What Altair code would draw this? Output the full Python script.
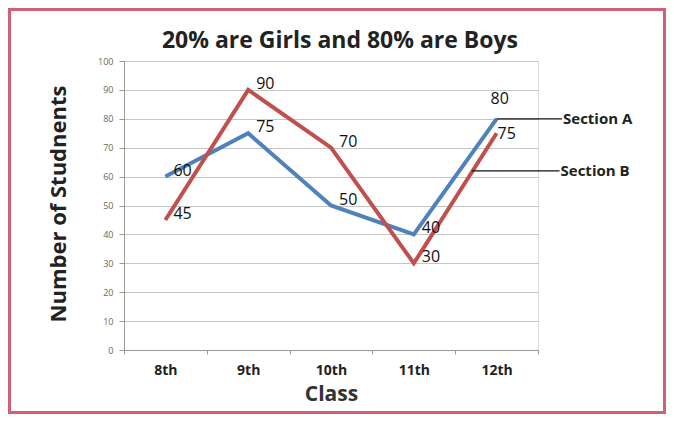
import json
import altair as alt
import pandas as pd

title_text = "20% are Girls and 80% are Boys"
classes = ["8th", "9th", "10th", "11th", "12th"]
section_a = [60, 75, 50, 40, 80]
section_b = [45, 90, 70, 30, 75]
series_names = ["Section A", "Section B"]
series_colors = ["#4f81bd", "#c0504d"]

# annotation callouts: anchor point on the line (class index, value) and end of leader
ann_names = ["Section A", "Section B"]
ann_x = [4.0, 3.7]
ann_y = [80, 62]
ann_x_end = [4.79, 4.76]

rows = []
for name, vals in zip(series_names, [section_a, section_b]):
    for i, (c, v) in enumerate(zip(classes, vals)):
        rows.append({"idx": i, "cls": c, "series": name, "value": v})
df = pd.DataFrame(rows)
ann = pd.DataFrame({"label": ann_names, "x": ann_x, "y": ann_y, "x_end": ann_x_end})

W, H = 414, 289
PAD_L, PAD_T, PAD_R, PAD_B = 116, 53, 128, 64
FONT = "Open Sans"

x_scale = alt.Scale(domain=[-0.5, len(classes) - 0.5], nice=False, zero=False)
y_scale = alt.Scale(domain=[0, 100], nice=False)
color_scale = alt.Scale(domain=series_names, range=series_colors)

label_expr = (
    f"datum.value < {len(classes) - 1} ? {json.dumps(classes)}[round(datum.value + 0.5)] : ''"
)

x_axis = alt.Axis(
    values=[i - 0.5 for i in range(len(classes) + 1)],
    labelExpr=label_expr,
    labelOffset=W / len(classes) / 2,
    labelOverlap=False,
    labelFlush=False,
    labelBound=False,
    grid=False,
    tickSize=4,
    tickColor="#999999",
    domainColor="#999999",
    labelFont=FONT,
    labelFontSize=14,
    labelFontWeight="bold",
    labelColor="#222222",
    labelPadding=9,
    title="Class",
    titleFont=FONT,
    titleFontSize=21,
    titleFontWeight="bold",
    titleColor="#333333",
    titlePadding=6,
)
y_axis = alt.Axis(
    values=list(range(0, 101, 10)),
    labelOverlap=False,
    grid=True,
    gridColor="#c4c4c4",
    gridWidth=1,
    tickSize=5,
    tickColor="#999999",
    domainColor="#999999",
    labelFont=FONT,
    labelFontSize=9,
    labelColor="#666666",
    labelPadding=6,
    title="Number of Studnents",
    titleFont=FONT,
    titleFontSize=22,
    titleFontWeight="bold",
    titleColor="#222222",
    titleX=-66,
    titleY=H / 2 - 2,
    titleAngle=-90,
    titleBaseline="middle",
    titleAlign="center",
)

X = lambda f: alt.X(f, scale=x_scale, axis=x_axis)
Y = lambda f: alt.Y(f, scale=y_scale, axis=y_axis)

base = alt.Chart(df)

lines = base.mark_line(strokeWidth=4).encode(
    x=X("idx:Q"),
    y=Y("value:Q"),
    color=alt.Color("series:N", scale=color_scale, legend=None),
    order="idx:Q",
)

txt_enc = dict(x=X("idx:Q"), y=Y("value:Q"), text=alt.Text("value:Q"))
lbl_main = base.transform_filter(f"datum.idx < {len(classes) - 1}").mark_text(
    align="left", baseline="middle", dx=8, dy=-6, font=FONT, fontSize=16, color="#111111"
).encode(**txt_enc)
lbl_last_a = base.transform_filter(
    f"datum.idx == {len(classes) - 1} && datum.series == 'Section A'"
).mark_text(
    align="left", baseline="middle", dx=-6, dy=-20, font=FONT, fontSize=16, color="#111111"
).encode(**txt_enc)
lbl_last_b = base.transform_filter(
    f"datum.idx == {len(classes) - 1} && datum.series == 'Section B'"
).mark_text(
    align="left", baseline="middle", dx=1, dy=1, font=FONT, fontSize=16, color="#111111"
).encode(**txt_enc)

ann_base = alt.Chart(ann)
leaders = ann_base.mark_rule(color="#111111", strokeWidth=1.2).encode(
    x=X("x:Q"),
    x2="x_end:Q",
    y=Y("y:Q"),
)
ann_text = ann_base.mark_text(
    align="left", baseline="middle", dx=1, font=FONT, fontSize=15, fontWeight="bold", color="#222222"
).encode(
    x=X("x_end:Q"),
    y=Y("y:Q"),
    text="label:N",
)

title_mark = alt.Chart(pd.DataFrame({"t": [title_text]})).mark_text(
    align="center", baseline="middle", font=FONT, fontSize=23, fontWeight="bold", color="#222222"
).encode(x=alt.value(W / 2 + 9), y=alt.value(-20), text="t:N")

border = alt.Chart(pd.DataFrame({"k": [0]})).mark_rect(
    filled=False, stroke="#cf6077", strokeWidth=3
).encode(
    x=alt.value(-PAD_L + 1.5),
    x2=alt.value(W + PAD_R - 1.5),
    y=alt.value(-PAD_T + 1.5),
    y2=alt.value(H + PAD_B - 1.5),
)

chart = (
    alt.layer(lines, border, lbl_main, lbl_last_a, lbl_last_b, leaders, ann_text, title_mark)
    .properties(
        width=W,
        height=H,
        autosize=alt.AutoSizeParams(type="none"),
        padding={"left": PAD_L, "top": PAD_T, "right": PAD_R, "bottom": PAD_B},
    )
    .configure_view(stroke=None, strokeWidth=0)
    .configure(background="white")
)

chart.save("out.html", embed_options={"renderer": "svg", "actions": False})
